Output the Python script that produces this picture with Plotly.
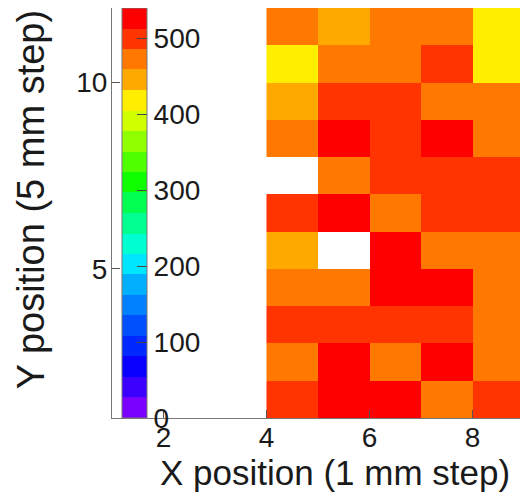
import plotly.graph_objects as go

# Bin centres (1 mm step in X, 5 mm step in Y)
x_centers = [4.5, 5.5, 6.5, 7.5, 8.5]
y_centers = [1.5, 2.5, 3.5, 4.5, 5.5, 6.5, 7.5, 8.5, 9.5, 10.5, 11.5]

# Counts per cell, rows from y=1.5 (bottom) to y=11.5 (top); None = empty cell
row_y1 = [500, 525, 525, 472, 500]
row_y2 = [472, 525, 472, 525, 472]
row_y3 = [500, 500, 500, 500, 472]
row_y4 = [472, 472, 525, 525, 472]
row_y5 = [445, None, 525, 472, 472]
row_y6 = [500, 525, 472, 500, 500]
row_y7 = [None, 472, 500, 500, 500]
row_y8 = [472, 525, 500, 525, 472]
row_y9 = [445, 500, 500, 472, 472]
row_y10 = [418, 472, 472, 500, 418]
row_y11 = [472, 445, 472, 472, 418]
z_values = [row_y1, row_y2, row_y3, row_y4, row_y5, row_y6,
            row_y7, row_y8, row_y9, row_y10, row_y11]

z_min, z_max = 0, 540
cbar_ticks = [0, 100, 200, 300, 400, 500]
x_ticks = [2, 4, 6, 8]
y_ticks = [5, 10]

# ROOT-like rainbow palette, 20 contour bands
band_colors = ["#7a00ff", "#3c00ff", "#0a00ff", "#0028ff", "#0050ff",
               "#0080ff", "#00b0ff", "#00e6ff", "#00ffd0", "#00ff90",
               "#00ff50", "#10ff00", "#50ff00", "#90ff00", "#d0ff00",
               "#ffee00", "#ffa800", "#ff7800", "#ff3400", "#ff0000"]
n = len(band_colors)
colorscale = []
for i, c in enumerate(band_colors):
    colorscale.append([i / n, c])
    colorscale.append([(i + 1) / n, c])

FONT = "Liberation Sans, Arial, sans-serif"
TXT = "#1a1a1a"

fig = go.Figure(go.Heatmap(
    x=x_centers, y=y_centers, z=z_values,
    zmin=z_min, zmax=z_max, colorscale=colorscale,
    hoverongaps=False,
    colorbar=dict(
        x=0.024, xanchor="left", xref="paper",
        y=0.5, yanchor="middle", len=1.0, lenmode="fraction",
        thickness=25, thicknessmode="pixels",
        xpad=0, ypad=0,
        outlinewidth=1, outlinecolor="#777777",
        tickvals=cbar_ticks, ticks="inside", ticklen=10,
        tickcolor="#444444",
        tickfont=dict(family=FONT, size=28, color=TXT),
    ),
))

# page body has an 8 px margin, so the figure is 8 px smaller and shifted
fig.update_layout(
    width=520, height=487,
    margin=dict(l=104, r=4, t=0, b=77, autoexpand=False),
    paper_bgcolor="white", plot_bgcolor="white",
    font=dict(family=FONT, color=TXT),
    xaxis=dict(range=[1, 9], tickvals=x_ticks, ticks="inside", ticklen=8,
               tickcolor="#555555", showgrid=False, zeroline=False,
               showline=True, mirror=True, linecolor="#777777", linewidth=1,
               automargin=False, ticklabelstandoff=-6,
               tickfont=dict(family=FONT, size=28, color=TXT)),
    yaxis=dict(range=[1, 12], tickvals=y_ticks, ticks="inside", ticklen=8,
               tickcolor="#555555", showgrid=False, zeroline=False,
               showline=True, mirror=True, linecolor="#777777", linewidth=1,
               automargin=False, ticklabelstandoff=-2,
               tickfont=dict(family=FONT, size=28, color=TXT)),
    annotations=[
        dict(text="X position (1 mm step)", xref="paper", yref="paper",
             x=0.97, xanchor="right", y=-0.132, yanchor="middle",
             showarrow=False, font=dict(family=FONT, size=35, color=TXT)),
        dict(text="Y position (5 mm step)", xref="paper", yref="paper",
             x=-0.197, xanchor="center", y=1.0, yanchor="top",
             textangle=-90, showarrow=False,
             font=dict(family=FONT, size=38, color=TXT)),
    ],
)

fig.write_html("out.html")
